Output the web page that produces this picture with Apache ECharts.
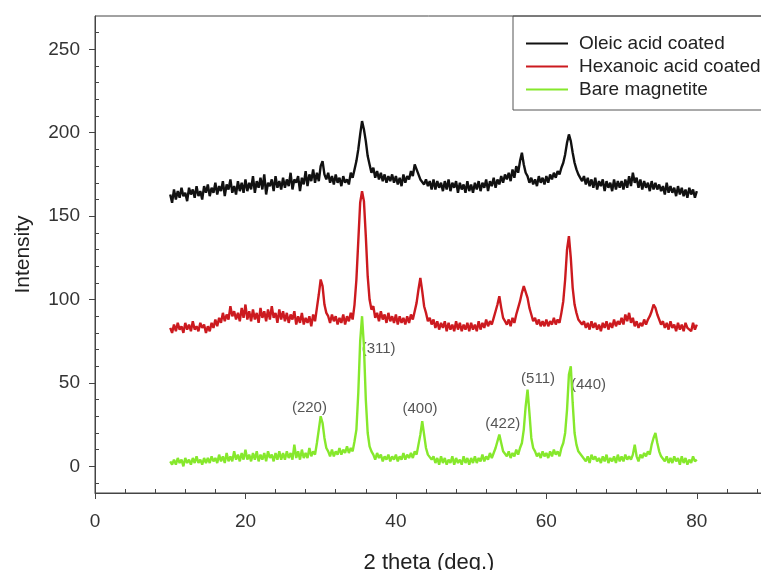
<!DOCTYPE html>
<html lang="en">
  <head>
    <meta charset="UTF-8" />
    <title>XRD patterns</title>
    <script src="https://cdn.jsdelivr.net/npm/echarts@6/dist/echarts.min.js"></script>
    <style>
      html, body { margin: 0; padding: 0; background: #fff; }
    </style>
  </head>
  <body>
    <div id="main" style="width: 761px; height: 570px"></div>

    <script>
      // 2 theta grid: 10 .. 80 deg, one reading every 0.25 deg
      const thetaStart = 10;
      const thetaStep = 0.25;

      const oleic = [
        163,158,166,160,165,161,167,162,164,159,167,163,166,161,168,162,165,160,168,164,
        169,162,167,164,170,163,168,165,171,162,169,166,172,164,168,163,171,165,170,164,
        172,165,170,166,174,164,171,167,173,166,175,163,170,168,172,165,174,167,171,166,
        173,167,172,168,176,166,172,170,174,165,173,169,177,168,175,171,178,170,176,171,
        180,183,175,172,176,170,174,169,175,170,173,168,174,170,172,169,176,173,178,183,
        190,199,207,202,195,186,181,176,179,173,177,172,176,171,175,170,174,171,175,170,
        174,169,173,168,175,170,174,172,177,174,181,178,175,172,173,169,172,168,171,166,
        172,166,171,167,170,165,171,166,172,165,170,167,171,164,170,166,169,164,171,165,
        169,164,170,166,171,165,170,167,172,165,171,168,173,167,172,169,174,170,175,172,
        176,171,178,173,180,176,183,188,181,176,174,170,173,169,172,168,174,170,173,169,
        174,170,175,172,176,173,177,175,179,182,187,194,199,195,188,182,178,175,176,171,
        174,169,173,168,172,167,173,166,171,168,172,165,171,167,170,165,172,166,171,167,
        171,166,172,167,174,168,176,170,173,167,172,166,171,167,170,165,171,166,170,166,
        169,165,168,163,170,164,168,164,167,162,168,163,167,162,166,161,167,163,166,161,
        165
      ];

      const hexanoic = [
        83,80,85,81,86,82,84,80,86,82,85,81,87,82,84,81,86,83,85,80,
        84,81,86,83,88,84,89,86,92,87,91,88,96,90,93,88,92,87,95,89,
        97,88,93,87,94,88,92,86,95,89,93,87,94,88,96,89,92,86,94,88,
        93,87,92,86,91,88,93,85,90,86,92,85,89,86,90,84,91,87,95,103,
        112,108,97,92,90,86,91,87,90,85,89,86,91,85,90,87,92,88,97,112,
        135,158,165,159,138,114,100,94,96,89,92,87,93,88,91,86,92,87,90,86,
        91,85,90,86,89,85,90,86,91,88,93,98,106,113,105,96,92,87,89,85,
        88,83,87,82,86,83,87,81,86,82,85,81,87,82,86,81,85,82,86,81,
        86,82,85,81,87,82,86,83,88,84,87,85,89,93,97,102,95,89,87,85,
        88,84,89,86,91,95,99,104,108,107,101,95,91,87,89,85,88,84,87,84,
        88,84,87,85,89,85,88,86,92,99,112,130,138,125,107,97,92,88,89,85,
        87,83,86,82,87,83,86,82,85,81,86,83,87,82,86,83,88,84,87,85,
        89,85,91,87,92,86,89,84,87,83,86,84,88,85,88,90,93,97,95,91,
        88,85,87,83,86,82,87,83,85,81,86,82,85,81,86,83,84,81,86,82,
        85
      ];

      const bare = [
        3,1,4,1,5,2,4,0,5,2,4,1,5,2,6,2,4,1,5,2,
        5,2,6,3,5,2,7,3,6,2,8,3,6,3,9,4,7,3,8,4,
        10,4,7,3,8,4,9,3,7,4,8,3,9,5,7,3,8,4,9,4,
        8,4,9,5,8,4,13,5,9,4,10,5,8,5,11,6,9,7,14,22,
        30,26,17,11,9,6,10,6,9,7,11,7,10,8,12,8,11,9,15,22,
        44,75,90,72,40,20,12,9,7,4,8,5,7,3,6,4,7,3,6,4,
        7,3,6,4,8,4,7,5,8,5,9,7,13,19,27,19,11,7,8,4,
        6,2,5,1,6,2,5,1,4,2,6,1,5,2,4,1,6,2,5,1,
        5,2,6,2,5,3,7,3,6,4,8,5,8,11,15,19,14,9,8,6,
        9,5,8,6,10,7,11,14,22,36,46,32,17,11,9,6,8,5,9,6,
        8,5,9,6,10,7,9,6,11,14,20,34,55,60,38,20,13,9,8,6,
        7,3,6,2,7,4,6,3,5,2,6,3,7,2,5,3,6,2,7,3,
        6,3,7,4,6,4,7,13,6,3,7,5,8,6,9,7,13,17,20,14,
        9,6,7,3,6,2,5,2,6,3,5,1,6,2,5,1,4,2,6,3,
        4
      ];

      // reflection labels: [2 theta, intensity, hkl]
      const hklLabels = [
        [28.5, 35, "(220)"],
        [37.7, 70.5, "(311)"],
        [43.2, 34.5, "(400)"],
        [54.2, 25.5, "(422)"],
        [58.9, 52.5, "(511)"],
        [65.6, 49, "(440)"],
      ];

      const xMajor = [0, 20, 40, 60, 80];
      const xMinor = [4, 8, 12, 16, 24, 28, 32, 36, 44, 48, 52, 56, 64, 68, 72, 76, 84, 88];
      const yMajor = [0, 50, 100, 150, 200, 250];
      const yMinor = [-10, 10, 20, 30, 40, 60, 70, 80, 90, 110, 120, 130, 140, 160, 170, 180, 190, 210, 220, 230, 240, 260];

      const seriesNames = ["Oleic acid coated", "Hexanoic acid coated", "Bare magnetite"];
      const seriesColors = ["#111111", "#cc1a1f", "#86e82c"];

      const withTheta = (arr) => arr.map((v, i) => [thetaStart + i * thetaStep, v]);

      const myChart = echarts.init(document.getElementById("main"));
      const font = "Liberation Sans, Arial, sans-serif";
      const lineIcon = "path://M0,0 L50,0 L50,2.2 L0,2.2 Z";

      const lineSeries = [oleic, hexanoic, bare].map((values, i) => ({
        name: seriesNames[i],
        type: "line",
        symbol: "none",
        itemStyle: { color: seriesColors[i] },
        lineStyle: { color: seriesColors[i], width: 2.4 },
        data: withTheta(values),
      }));

      const option = {
        animation: false,
        grid: {
          left: 95,
          top: 16,
          right: -2,
          bottom: 77,
          outerBoundsMode: "none",
          show: true,
          borderColor: "#444",
          borderWidth: 1,
        },
        legend: {
          data: seriesNames.map((n, i) => ({
            name: n,
            icon: lineIcon,
            itemStyle: { color: seriesColors[i], borderWidth: 0 },
          })),
          orient: "vertical",
          left: 513,
          top: 16,
          padding: [18, 12, 11, 13],
          itemWidth: 42,
          itemHeight: 14,
          itemGap: 4,
          borderColor: "#555",
          borderWidth: 1,
          textStyle: { fontFamily: font, fontSize: 19, color: "#222", padding: [0, 0, 0, 6] },
        },
        xAxis: [
          {
            type: "value",
            min: 0,
            max: 88.8,
            name: "2 theta (deg.)",
            nameLocation: "middle",
            nameGap: 59,
            nameTextStyle: { fontFamily: font, fontSize: 22, color: "#222" },
            axisLine: { onZero: false, lineStyle: { color: "#444" } },
            axisTick: { customValues: xMajor, length: 6, lineStyle: { color: "#444" } },
            axisLabel: { customValues: xMajor, margin: 19, fontFamily: font, fontSize: 19, color: "#333" },
            splitLine: { show: false },
          },
          {
            type: "value",
            min: 0,
            max: 88.8,
            position: "bottom",
            axisLine: { show: false, onZero: false },
            axisTick: { customValues: xMinor, inside: true, length: 4, lineStyle: { color: "#444" } },
            axisLabel: { show: false },
            splitLine: { show: false },
          },
        ],
        yAxis: [
          {
            type: "value",
            min: -16,
            max: 270,
            name: "Intensity",
            nameLocation: "middle",
            nameGap: 61,
            nameTextStyle: { fontFamily: font, fontSize: 21, color: "#222" },
            axisLine: { show: true, onZero: false, lineStyle: { color: "#444" } },
            axisTick: { show: true, customValues: yMajor, length: 6, lineStyle: { color: "#444" } },
            axisLabel: { customValues: yMajor, margin: 15, fontFamily: font, fontSize: 19, color: "#333" },
            splitLine: { show: false },
          },
          {
            type: "value",
            min: -16,
            max: 270,
            position: "left",
            axisLine: { show: false, onZero: false },
            axisTick: { show: true, customValues: yMinor, inside: true, length: 4, lineStyle: { color: "#444" } },
            axisLabel: { show: false },
            splitLine: { show: false },
          },
        ],
        series: lineSeries.concat([
          {
            name: "hkl",
            type: "scatter",
            symbolSize: 0,
            silent: true,
            data: hklLabels,
            label: {
              show: true,
              position: "inside",
              formatter: (p) => p.value[2],
              fontFamily: font,
              fontSize: 15,
              color: "#2a2a2a",
            },
          },
        ]),
      };

      myChart.setOption(option);
    </script>
  </body>
</html>
